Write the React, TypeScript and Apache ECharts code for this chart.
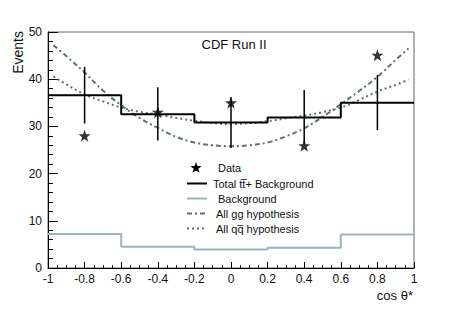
import React, { useEffect, useRef } from "react";
import * as echarts from "echarts";

// Histogram bins (cos theta*)
const binEdges = [-1, -0.6, -0.2, 0.2, 0.6, 1];
const totalValues = [36.6, 32.6, 30.8, 31.9, 35.0];
const backgroundValues = [7.2, 4.5, 3.9, 4.3, 7.1];

// Data points and error bars
const dataX = [-0.8, -0.4, 0, 0.4, 0.8];
const dataY = [28.0, 33.0, 35.0, 25.9, 45.1];
const errLow = [30.6, 27.0, 25.4, 26.4, 29.2];
const errHigh = [42.6, 38.3, 36.2, 37.7, 40.9];

// Hypothesis curves
const curveX = [-0.97, -0.9, -0.8, -0.7, -0.6, -0.5, -0.4, -0.3, -0.2, -0.1, 0, 0.1, 0.2, 0.3, 0.4, 0.5, 0.6, 0.7, 0.8, 0.9, 0.97];
const ggValues = [47.2, 44.9, 41.4, 37.6, 34.5, 31.8, 29.7, 27.8, 26.6, 26.0, 25.8, 26.0, 26.6, 27.9, 29.6, 32.0, 34.7, 37.5, 40.5, 44.1, 46.5];
const qqValues = [40.6, 38.9, 36.8, 35.3, 34.0, 33.1, 32.5, 31.8, 31.2, 30.7, 30.5, 30.7, 31.1, 31.7, 32.3, 33.0, 34.0, 35.6, 37.4, 38.8, 39.9];

const legendLabels = ["Data", "Total tt\u0305+ Background", "Background", "All gg hypothesis", "All qq\u0305 hypothesis"];

const FONT = "'Liberation Sans', Arial, Helvetica, sans-serif";
const STAR = "path://M12,0 L14.9,8.3 L23.4,8.3 L16.5,13.5 L19.1,22 L12,17 L4.9,22 L7.5,13.5 L0.6,8.3 L9.1,8.3 Z";
const CURVE_COLOR = "#5b7471";

function starPoints(cx: number, cy: number, r: number, ri: number) {
  const pts: number[][] = [];
  for (let i = 0; i < 10; i++) {
    const a = -Math.PI / 2 + (i * Math.PI) / 5;
    const rr = i % 2 === 0 ? r : ri;
    pts.push([cx + rr * Math.cos(a), cy + rr * Math.sin(a)]);
  }
  return pts;
}

function stepData(values: number[]) {
  const d = binEdges.slice(0, -1).map((e, i) => [e, values[i]]);
  d.push([binEdges[binEdges.length - 1], values[values.length - 1]]);
  return d;
}

export default function App() {
  const ref = useRef<HTMLDivElement>(null);
  useEffect(() => {
    if (!ref.current) return;
    const chart = echarts.init(ref.current, null, { renderer: "svg" });
    const legendRows = [168, 183.5, 198.5, 213.5, 228.5];
    const lx1 = 187, lx2 = 207;
    const textX = [218, 213, 218, 216, 216];
    const graphics: any[] = [
      { type: "text", x: 234, y: 44, style: { text: "CDF Run II", font: `13px ${FONT}`, fill: "#111", textAlign: "center", textVerticalAlign: "middle" } },
      { type: "text", x: 18, y: 31, rotation: Math.PI / 2, style: { text: "Events", font: `14px ${FONT}`, fill: "#111", textAlign: "right", textVerticalAlign: "middle" } },
      { type: "text", x: 413, y: 295, style: { text: "cos \u03b8*", font: `13px ${FONT}`, fill: "#111", textAlign: "right", textVerticalAlign: "middle" } },
      { type: "polygon", shape: { points: starPoints(196, legendRows[0], 6, 2.4) }, style: { fill: "#000" } },
      { type: "line", shape: { x1: lx1, y1: legendRows[1], x2: lx2, y2: legendRows[1] }, style: { stroke: "#000", lineWidth: 2 } },
      { type: "line", shape: { x1: lx1, y1: legendRows[2], x2: lx2, y2: legendRows[2] }, style: { stroke: "#9db3bb", lineWidth: 2 } },
      { type: "line", shape: { x1: lx1, y1: legendRows[3], x2: lx2, y2: legendRows[3] }, style: { stroke: CURVE_COLOR, lineWidth: 2, lineDash: [5, 3, 2, 3] } },
      { type: "line", shape: { x1: lx1, y1: legendRows[4], x2: lx2, y2: legendRows[4] }, style: { stroke: CURVE_COLOR, lineWidth: 2, lineDash: [2, 3] } },
    ];
    legendLabels.forEach((t, i) => {
      graphics.push({ type: "text", x: textX[i], y: legendRows[i], style: { text: t, font: `11px ${FONT}`, fill: "#111", textAlign: "left", textVerticalAlign: "middle" } });
    });

    chart.setOption({
      animation: false,
      backgroundColor: "#fff",
      grid: { left: 48, right: 43, top: 32, bottom: 42, show: true, borderColor: "#666", borderWidth: 1 },
      xAxis: {
        type: "value", min: -1, max: 1, interval: 0.2,
        axisLine: { onZero: false, lineStyle: { color: "#000", width: 1 } },
        axisTick: { inside: true, length: 6, lineStyle: { color: "#000" } },
        minorTick: { show: true, splitNumber: 4, length: 3, lineStyle: { color: "#000" } },
        splitLine: { show: false },
        axisLabel: { fontSize: 12, color: "#111", margin: 5, fontFamily: FONT, formatter: (v: number) => String(Math.round(v * 10) / 10) },
      },
      yAxis: {
        type: "value", min: 0, max: 50, interval: 10,
        axisLine: { show: true, onZero: false, lineStyle: { color: "#000", width: 1 } },
        axisTick: { inside: true, length: 10, lineStyle: { color: "#000" } },
        minorTick: { show: true, splitNumber: 5, length: 5, lineStyle: { color: "#000" } },
        splitLine: { show: false },
        axisLabel: { fontSize: 12, color: "#111", margin: 6, fontFamily: FONT },
      },
      graphic: graphics,
      series: [
        { type: "line", name: "Background", data: stepData(backgroundValues), step: "end", symbol: "none", lineStyle: { color: "#9db3bb", width: 2 }, z: 2 },
        { type: "line", name: "gg", data: curveX.map((x, i) => [x, ggValues[i]]), smooth: 0.4, symbol: "none", lineStyle: { color: CURVE_COLOR, width: 2, type: [5, 3, 2, 3] }, z: 3 },
        { type: "line", name: "qq", data: curveX.map((x, i) => [x, qqValues[i]]), smooth: 0.4, symbol: "none", lineStyle: { color: CURVE_COLOR, width: 2, type: [2, 3] }, z: 3 },
        { type: "line", name: "Total", data: stepData(totalValues), step: "end", symbol: "none", lineStyle: { color: "#000", width: 2 }, z: 4 },
        {
          type: "custom", name: "Errors", data: dataX.map((x, i) => [x, errLow[i], errHigh[i]]),
          encode: { x: 0, y: [1, 2] },
          renderItem: (params: any, api: any) => {
            const lo = api.coord([api.value(0), api.value(1)]);
            const hi = api.coord([api.value(0), api.value(2)]);
            return { type: "line", shape: { x1: lo[0], y1: lo[1], x2: hi[0], y2: hi[1] }, style: { stroke: "#000", lineWidth: 1.5 } };
          },
          z: 5,
        },
        { type: "scatter", name: "Data", data: dataX.map((x, i) => [x, dataY[i]]), symbol: STAR, symbolSize: 12, itemStyle: { color: "#000" }, z: 6 },
      ],
    });
    return () => chart.dispose();
  }, []);
  return <div ref={ref} style={{ position: "absolute", left: 0, top: 0, width: 457, height: 310 }} />;
}
